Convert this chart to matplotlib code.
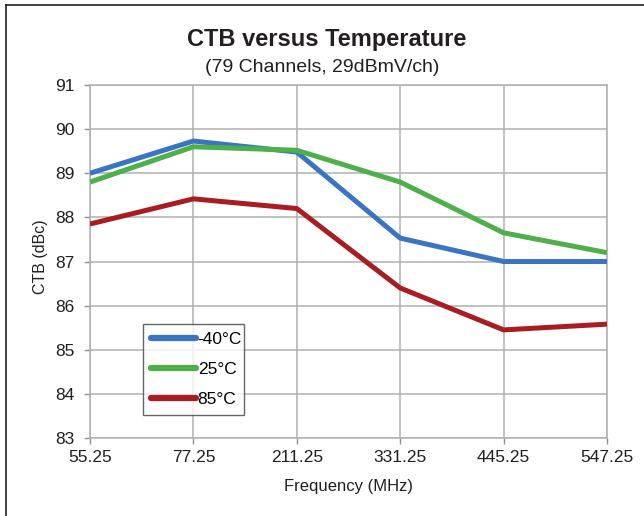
import matplotlib
matplotlib.use("Agg")
import matplotlib.pyplot as plt
from matplotlib.lines import Line2D

plt.rcParams['font.family'] = ['Liberation Sans', 'DejaVu Sans']

freqs = ["55.25", "77.25", "211.25", "331.25", "445.25", "547.25"]
ctb_m40 = [89.0, 89.73, 89.48, 87.53, 87.0, 87.0]
ctb_25 = [88.8, 89.6, 89.52, 88.8, 87.65, 87.2]
ctb_85 = [87.85, 88.42, 88.2, 86.4, 85.45, 85.58]
series_labels = ["-40°C", "25°C", "85°C"]
colors = ["#3a75c4", "#4eb04a", "#a81d22"]

W, H = 644, 516
L, R, T, B = 90, 607, 85, 438
fig = plt.figure(figsize=(W/100, H/100), dpi=100)
ax = fig.add_axes([L/W, 1-B/H, (R-L)/W, (B-T)/H])

x = list(range(len(freqs)))
for vals, lab, c in zip([ctb_m40, ctb_25, ctb_85], series_labels, colors):
    ax.plot(x, vals, color=c, lw=3.6, label=lab, solid_capstyle='butt', zorder=3)

ax.set_xlim(0, len(freqs)-1)
ax.set_ylim(83, 91)
ax.set_xticks(x)
ax.set_xticklabels(freqs)
ax.set_yticks(range(83, 92))
ax.grid(True, color="#b0b0b0", lw=1.1)
for s in ax.spines.values():
    s.set_color("#b0b0b0")
    s.set_linewidth(1.1)
ax.tick_params(axis='both', colors="#909090", length=4.3, width=1, labelsize=12.5, labelcolor="#231f20")
ax.tick_params(axis='x', pad=4)
ax.tick_params(axis='y', pad=6.5)

fig.text((L+R)/2/W, 1-486/H, "Frequency (MHz)", ha='center', va='center', fontsize=12, color="#231f20")
fig.text(40/W, 1-257/H, "CTB (dBc)", ha='center', va='center', rotation=90, fontsize=11.5, color="#231f20")

lx0, lx1, ly0, ly1 = 143, 244, 323, 415
leg = ax.legend(loc='lower left',
                bbox_to_anchor=((lx0-L)/(R-L), (B-ly1)/(B-T), (lx1-lx0)/(R-L), (ly1-ly0)/(B-T)),
                mode='expand', fontsize=12.5, frameon=True, fancybox=False, handlelength=2.6,
                handletextpad=0.1, borderaxespad=0, labelspacing=0.86, borderpad=0.45)
leg.get_frame().set_edgecolor("#404040")
leg.get_frame().set_linewidth(1.0)
for h in leg.get_lines():
    h.set_linewidth(4.5)
    h.set_solid_capstyle('round')

fig.text(327/W, 1-46/H, "CTB versus Temperature", ha='center', va='baseline', fontsize=17, fontweight='bold', color="#231f20")
fig.text(322/W, 1-72/H, "(79 Channels, 29dBmV/ch)", ha='center', va='baseline', fontsize=14, color="#231f20")

# figure frame (top and left)
fig.add_artist(Line2D([6/W, 6/W], [0, 1-5/H], transform=fig.transFigure, color="#231f20", lw=1.2))
fig.add_artist(Line2D([6/W, 1], [1-5/H, 1-5/H], transform=fig.transFigure, color="#231f20", lw=1.2))

fig.savefig("out.png", dpi=100)
